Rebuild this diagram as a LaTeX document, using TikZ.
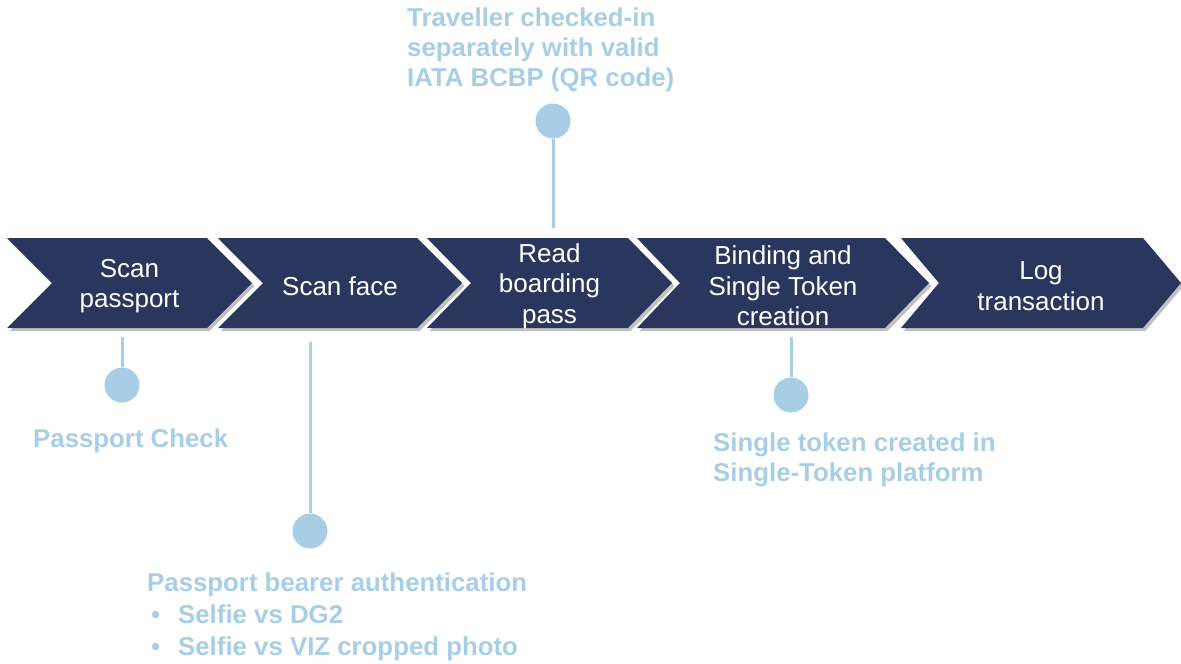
\documentclass[tikz,border=0pt]{standalone}
\usepackage{fontspec}
\setmainfont{Liberation Sans}
\usetikzlibrary{shadows}
\definecolor{navy}{HTML}{2B365E}
\definecolor{lblue}{HTML}{A8CEE6}
\newcommand\chevronpath[5]{%
  \path[chev] (#1,238) -- (#3,238) -- (#4,283) -- (#3,328) -- (#1,328) -- (#2,283) -- cycle;
  \coordinate (#5) at ({(#1+#4)/2},286);}
\begin{document}
\begin{tikzpicture}[x=1pt,y=-1pt,
  chev/.style={fill=navy, drop shadow={shadow xshift=2.5pt, shadow yshift=-3pt, opacity=0.35, fill=black!70}},
  steptext/.style={text=white, font=\fontsize{26}{30.5}\selectfont, align=center, inner sep=0},
  lbl/.style={text=lblue, font=\bfseries\fontsize{25.8}{30}\selectfont, align=left, inner sep=0},
  dot/.style={circle, fill=lblue, minimum size=35pt, inner sep=0},
  stem/.style={draw=lblue, line width=3pt}]
\useasboundingbox (0,0) rectangle (1181,664);
% chevrons
\chevronpath{7}{52}{207}{252}{p1}
\chevronpath{218}{263}{417}{462}{p2}
\chevronpath{427}{471}{628}{672}{p3}
\chevronpath{637}{680}{885}{929}{p4}
\chevronpath{901}{939}{1143}{1181}{p5}
\node[steptext] (c1) at (p1) {Scan\\passport};
\node[steptext] (c2) at (p2) {Scan face};
\node[steptext] (c3) at (p3) {Read\\boarding\\pass};
\node[steptext] (c4) at (p4) {Binding and\\Single Token\\creation};
\node[steptext] (c5) at (p5) {Log\\transaction};
% stems anchors
\coordinate (t1) at (122,337);
\coordinate (t2) at (310,342);
\coordinate (t3) at (553,228);
\coordinate (t4) at (791,337);
% dots
\node[dot] (d1) at (122,385) {};
\node[dot] (d2) at (310,531) {};
\node[dot] (d3) at (553,121) {};
\node[dot] (d4) at (791,395) {};
\draw[stem] (t1) -- (d1);
\draw[stem] (t2) -- (d2);
\draw[stem] (t3) -- (d3);
\draw[stem] (t4) -- (d4);
% labels
\node[lbl, anchor=base west] (l1) at (33,447) {Passport Check};
\node[lbl, anchor=north west] (l3) at (407,8) {Traveller checked-in\\separately with valid\\IATA BCBP (QR code)};
\node[lbl, anchor=north west] (l4) at (713,433) {Single token created in\\Single-Token platform};
\node[lbl, anchor=north west, font=\bfseries\fontsize{25.8}{32}\selectfont] (l2) at (147,573) {Passport bearer authentication\\\makebox[31pt][l]{\hspace{4pt}\textbullet}Selfie vs DG2\\\makebox[31pt][l]{\hspace{4pt}\textbullet}Selfie vs VIZ cropped photo};
\end{tikzpicture}
\end{document}
